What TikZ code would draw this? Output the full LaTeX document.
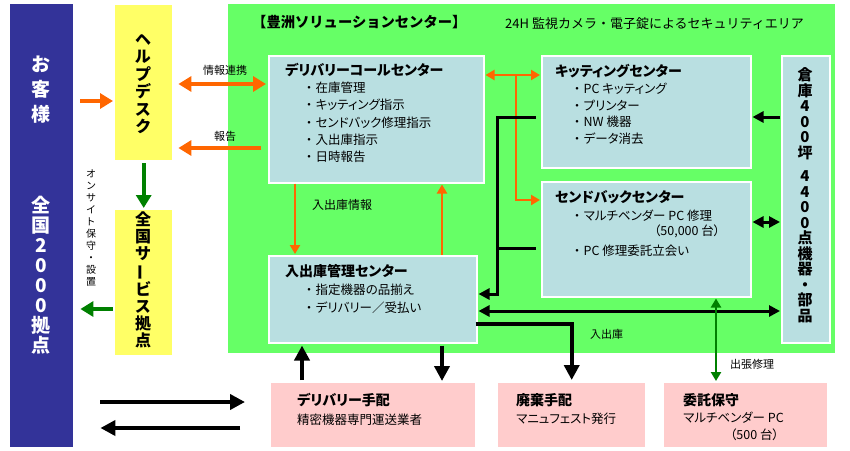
\documentclass[tikz,border=0pt]{standalone}
\usepackage{fontspec}
\setmainfont{Noto Sans CJK JP}[RawFeature=+palt]
\newfontfamily\fullw{Noto Sans CJK JP}
\usepackage{graphicx}
\usetikzlibrary{arrows.meta,positioning}
\definecolor{custnavy}{HTML}{333399}
\definecolor{hdyellow}{HTML}{FFFF66}
\definecolor{areagreen}{HTML}{66FF66}
\definecolor{ctrblue}{HTML}{B9DFE1}
\definecolor{vendpink}{HTML}{FFCCCC}
\definecolor{flowor}{HTML}{FF6600}
\definecolor{flowgr}{HTML}{008000}
\newcommand{\itm}{\makebox[13pt][c]{・}}
\newcommand{\regionbox}[5]{
    \node[
        #1,
        anchor=north west,
        minimum width=#4,
        minimum height=#5
    ] (#2) at (#3) {};
}

\begin{document}
\begin{tikzpicture}[x=1pt,y=-1pt,
    ctr/.style={fill=ctrblue,draw=white,line width=1.5pt,inner sep=0},
    vend/.style={fill=vendpink,inner sep=0},
    desk/.style={fill=hdyellow,inner sep=0},
    ttl/.style={font=\bfseries\fontsize{14}{16}\selectfont,inner sep=0},
    lst/.style={font=\fontsize{12.5}{17.25}\selectfont,align=left,inner sep=0},
    body/.style={font=\fontsize{12.5}{15}\selectfont,inner sep=0},
    lbl/.style={font=\fontsize{11}{13}\selectfont,inner sep=0},
    vtext/.style={align=center,inner sep=0},
    ofat/.style={draw=flowor,line width=4pt,>={Triangle[length=13pt,width=15pt]}},
    othin/.style={draw=flowor,line width=2.8pt,>={Triangle[length=9pt,width=10pt]}},
    bthin/.style={draw=black,line width=3pt,>={Triangle[length=11pt,width=11pt]}},
    bfat/.style={draw=black,line width=4pt,>={Triangle[length=15pt,width=15pt]}},
    gfat/.style={draw=flowgr,line width=4pt,>={Triangle[length=13pt,width=15pt]}},
    gthin/.style={draw=flowgr,line width=2.5pt,>={Triangle[length=9pt,width=10pt]}}]
    \useasboundingbox[fill=white] (0,0) rectangle (850,450);

    % left side
    \regionbox{fill=custnavy,inner sep=0}{cust}{10,4}{63}{443}
    \node[vtext,text=white,font=\bfseries\fontsize{19}{25}\selectfont] (custname) at (41,90) {お\\客\\様};
    \node[vtext,text=white,font=\bfseries\fontsize{19}{20}\selectfont] (custsites) at (41,275) {全\\国\\2\\0\\0\\0\\拠\\点};
    \regionbox{desk}{hd}{115,5}{57}{155}
    \node[vtext,font=\bfseries\fontsize{16}{17.5}\selectfont] (hdname) at (143,84) {ヘ\\ル\\プ\\デ\\ス\\ク};
    \regionbox{desk}{nat}{115,210}{57}{145}
    \node[vtext,font=\bfseries\fontsize{16}{17}\selectfont] (natname) at (143,280) {全\\国\\サ\\\rotatebox[origin=c]{90}{ー}\\ビ\\ス\\拠\\点};
    \node[vtext,font=\fontsize{10}{12}\selectfont] (onsite) at (91,228) {オ\\ン\\サ\\イ\\ト\\保\\守\\・\\設\\置};

    % security area
    \regionbox{fill=areagreen,inner sep=0}{toyosu}{228,4}{607}{349}
    \node[font=\fullw\bfseries\fontsize{14.3}{16}\selectfont,inner sep=0,anchor=west] (toyosutitle) at (252,22) {【豊洲ソリューションセンター】};
    \node[font=\fullw\fontsize{13}{15}\selectfont,inner sep=0,anchor=west] (secnote) at (505,24) {24H 監視カメラ・電子錠によるセキュリティエリア};

    \regionbox{ctr}{dcc}{268,55}{215}{127}
    \node[ttl,anchor=west] (dcctitle) at (285,70) {デリバリーコールセンター};
    \node[lst,anchor=north west] (dcclist) at (302.5,81.75) {\itm 在庫管理\\\itm キッティング指示\\\itm センドバック修理指示\\\itm 入出庫指示\\\itm 日時報告};

    \regionbox{ctr}{kit}{541,55}{209}{112}
    \node[ttl,anchor=west] (kittitle) at (555,71) {キッティングセンター};
    \node[lst,anchor=north west,font=\fontsize{12.5}{16.7}\selectfont] (kitlist) at (570.5,82.75) {\itm PC キッティング\\\itm プリンター\\\itm NW 機器\\\itm データ消去};

    \regionbox{ctr}{sbc}{541,181}{209}{115}
    \node[ttl,anchor=west] (sbctitle) at (555,197) {センドバックセンター};
    \node[body,anchor=west] (sbcrepair) at (570.5,216) {\itm マルチベンダー PC 修理};
    \node[body,anchor=west] (sbcqty) at (654,231) {（50,000 台）};
    \node[body,anchor=west] (sbcwitness) at (570.5,251) {\itm PC 修理委託立会い};

    \regionbox{ctr}{inv}{268,255}{208}{87}
    \node[ttl,anchor=west] (invtitle) at (285,271) {入出庫管理センター};
    \node[lst,anchor=north west,font=\fontsize{12.5}{18}\selectfont] (invlist) at (302.5,283.75) {\itm 指定機器の品揃え\\\itm デリバリー／受払い};

    \regionbox{ctr}{wh}{781,55}{48}{287}
    \node[vtext,font=\bfseries\fontsize{15}{15.5}\selectfont] (whname) at (805,195) {倉\\庫\\4\\0\\0\\坪\\[8pt]4\\4\\0\\0\\点\\機\\器\\・\\部\\品};

    % outside partners
    \regionbox{vend}{del}{271,383}{204}{64}
    \node[ttl,anchor=west] (deltitle) at (297,400) {デリバリー手配};
    \node[body,anchor=west] (deltext) at (297,420) {精密機器専門運送業者};
    \regionbox{vend}{disp}{498,383}{147}{64}
    \node[ttl,anchor=west] (disptitle) at (516,400) {廃棄手配};
    \node[body,anchor=west] (disptext) at (516,419) {マニュフェスト発行};
    \regionbox{vend}{mnt}{664,383}{163}{64}
    \node[ttl,anchor=west] (mnttitle) at (683,400) {委託保守};
    \node[body,anchor=west] (mnttext) at (683,418) {マルチベンダー PC};
    \node[body,anchor=west] (mntqty) at (730,435) {（500 台）};

    % help desk flows
    \draw[ofat,->] ([xshift=7pt]cust.east |- 0,101) -- ([xshift=-2pt]hd.west |- 0,101);
    \draw[ofat,<->] ([xshift=6pt]hd.east |- 0,84) -- ([xshift=-2pt]dcc.west |- 0,84);
    \node[lbl] (infolbl) at (225,70) {情報連携};
    \draw[ofat,->] ([xshift=-7pt]dcc.west |- 0,148) -- ([xshift=6pt]hd.east |- 0,148);
    \node[lbl] (reportlbl) at (225,136) {報告};
    \draw[gfat,->] ([yshift=-3pt]hd.south) -- ([yshift=2pt]nat.north);
    \draw[gfat,->] ([xshift=-2pt]nat.west |- 0,309) -- ([xshift=7pt]cust.east |- 0,309);

    % inside the security area
    \coordinate (obranch) at (516,75);
    \draw[othin,<->] ([xshift=1pt]dcc.east |- obranch) -- ([xshift=-1pt]kit.west |- obranch);
    \draw[othin,->] (obranch) |- ([xshift=-1pt]sbc.west |- 0,200);
    \draw[othin,->] (dcc.south -| 295,0) -- ([yshift=1pt]inv.north -| 295,0);
    \node[font=\fontsize{12}{14}\selectfont,inner sep=0,anchor=west] (ioinfo) at (312,205) {入出庫情報};
    \draw[othin,->] (inv.north -| 442,0) -- ([yshift=-1pt]dcc.south -| 442,0);

    \coordinate (bjoin) at (497,294);
    \draw[bthin,->] ([xshift=-5pt]kit.west |- 0,117) -| (bjoin) -- ([xshift=1pt]inv.east |- bjoin);
    \draw[bthin] ([xshift=-5pt]sbc.west |- 0,248) -- (bjoin |- 0,248);
    \draw[bthin,<->] ([xshift=1pt]inv.east |- 0,311) -- ([xshift=-1pt]wh.west |- 0,311);
    \draw[bthin,->] ([xshift=-1pt]wh.west |- 0,117) -- ([xshift=1pt]kit.east |- 0,117);
    \draw[bthin,<->] ([xshift=1pt]sbc.east |- 0,222) -- ([xshift=-1pt]wh.west |- 0,222);
    \draw[bfat,->] ([xshift=-2pt]inv.east |- 0,324) -| ([yshift=3pt]disp.north);
    \node[lbl,anchor=west] (iolbl) at (590,334) {入出庫};
    \draw[gthin,<->] ([yshift=-1pt]sbc.south -| 716,0) -- ([yshift=2pt]mnt.north -| 716,0);
    \node[lbl,anchor=west] (triplbl) at (730,364) {出張修理};

    % delivery
    \draw[bfat,->] ([yshift=3pt]del.north -| 302,0) -- ([yshift=-2pt]inv.south -| 302,0);
    \draw[bfat,->] ([yshift=-2pt]inv.south -| 442,0) -- ([yshift=2pt]del.north -| 442,0);
    \draw[bfat,->] ([xshift=27pt]cust.east |- 0,402) -- ([xshift=-26pt]del.west |- 0,402);
    \draw[bfat,->] ([xshift=-31pt]del.west |- 0,428) -- ([xshift=27pt]cust.east |- 0,428);
\end{tikzpicture}
\end{document}
